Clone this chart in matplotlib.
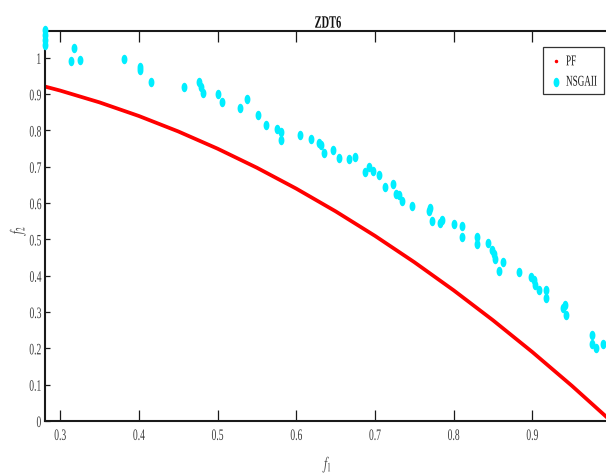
import numpy as np
import matplotlib
matplotlib.use("Agg")
import matplotlib.pyplot as plt
from matplotlib.patheffects import AbstractPathEffect
from matplotlib.transforms import Affine2D
from matplotlib.lines import Line2D
from matplotlib.patches import Rectangle

plt.rcParams['font.family'] = ['Liberation Serif', 'DejaVu Serif']
plt.rcParams['mathtext.fontset'] = 'stix'

# ---------------- data ----------------
pf_f1 = [0.2808, 0.30, 0.35, 0.40, 0.45, 0.50, 0.55, 0.60, 0.65, 0.70,
         0.75, 0.80, 0.85, 0.90, 0.95, 1.00]
pf_f2 = [0.921, 0.910, 0.8775, 0.840, 0.7975, 0.750, 0.6975, 0.640, 0.5775, 0.510,
         0.4375, 0.360, 0.2775, 0.190, 0.0975, 0.000]

ns_f1 = [0.281, 0.281, 0.281, 0.281, 0.318, 0.314, 0.325, 0.381, 0.401, 0.401,
         0.416, 0.457, 0.476, 0.479, 0.482, 0.501, 0.506, 0.529, 0.537, 0.551,
         0.561, 0.575, 0.581, 0.581, 0.605, 0.619, 0.629, 0.632, 0.635, 0.647,
         0.654, 0.667, 0.675, 0.688, 0.693, 0.698, 0.705, 0.713, 0.723, 0.727,
         0.730, 0.734, 0.747, 0.770, 0.769, 0.773, 0.783, 0.785, 0.800, 0.811,
         0.811, 0.830, 0.830, 0.844, 0.849, 0.851, 0.853, 0.863, 0.858, 0.883,
         0.898, 0.902, 0.904, 0.908, 0.918, 0.918, 0.941, 0.939, 0.943, 0.976,
         0.976, 0.981, 0.990]
ns_f2 = [1.076, 1.062, 1.048, 1.036, 1.028, 0.992, 0.995, 0.996, 0.976, 0.967,
         0.933, 0.921, 0.933, 0.919, 0.903, 0.901, 0.878, 0.861, 0.886, 0.844,
         0.815, 0.805, 0.795, 0.774, 0.788, 0.776, 0.766, 0.761, 0.738, 0.745,
         0.725, 0.721, 0.727, 0.686, 0.699, 0.689, 0.677, 0.645, 0.654, 0.625,
         0.622, 0.607, 0.593, 0.586, 0.577, 0.551, 0.546, 0.553, 0.542, 0.538,
         0.506, 0.508, 0.488, 0.490, 0.471, 0.459, 0.446, 0.437, 0.414, 0.409,
         0.397, 0.388, 0.375, 0.361, 0.361, 0.338, 0.320, 0.310, 0.292, 0.237,
         0.212, 0.202, 0.212]

x_ticks = [0.3, 0.4, 0.5, 0.6, 0.7, 0.8, 0.9]
x_labels = ['0.3', '0.4', '0.5', '0.6', '0.7', '0.8', '0.9']
y_ticks = [0, 0.1, 0.2, 0.3, 0.4, 0.5, 0.6, 0.7, 0.8, 0.9, 1.0]
y_labels = ['0', '0.1', '0.2', '0.3', '0.4', '0.5', '0.6', '0.7', '0.8', '0.9', '1']
series_names = ['PF', 'NSGAII']


# ------------- text squeeze (narrow look) -------------
class Squeeze(AbstractPathEffect):
    def __init__(self, sx=0.6, anchor='center', sy=1.0):
        super().__init__()
        self.sx = sx
        self.sy = sy
        self.anchor = anchor

    def draw_path(self, renderer, gc, tpath, affine, rgbFace=None):
        ext = tpath.get_extents()
        if self.anchor == 'center':
            cx = (ext.x0 + ext.x1) / 2
        elif self.anchor == 'right':
            cx = ext.x1
        else:
            cx = ext.x0
        t = Affine2D().translate(-cx, 0).scale(self.sx, self.sy).translate(cx, 0)
        renderer.draw_path(gc, tpath, t + affine, rgbFace)


SX = 0.6
cyan = '#00eeff'
tick_col = '#3a3a3a'
spine_col = '#1a1a1a'
t = np.linspace(0, 2 * np.pi, 41)
ellipse = np.column_stack([0.62 * np.cos(t), np.sin(t)])

fig = plt.figure(figsize=(6.06, 4.74), dpi=100)
ax = fig.add_axes([45 / 606, 53 / 474, 566 / 606, 390 / 474])

ax.plot(pf_f1, pf_f2, color='#ff0000', lw=2.7, zorder=2)
ax.plot(ns_f1, ns_f2, linestyle='None', marker=ellipse, markersize=6.8,
        color=cyan, markeredgecolor='none', zorder=6, clip_on=False)

ax.set_xlim(0.2808, 1.0)
ax.set_ylim(0, 1.074)
ax.set_xticks(x_ticks)
ax.set_xticklabels(x_labels)
ax.set_yticks(y_ticks)
ax.set_yticklabels(y_labels)

ax.tick_params(axis='x', direction='in', length=7.9, width=0.9, top=True,
               bottom=True, pad=5.0, labelsize=11.5, labelcolor=tick_col,
               color=spine_col)
ax.tick_params(axis='y', direction='in', length=3.6, width=0.9, left=True,
               right=True, pad=2.5, labelsize=11.5, labelcolor=tick_col,
               color=spine_col)
for s in ax.spines.values():
    s.set_linewidth(1.5)
    s.set_color(spine_col)

for lbl in ax.get_xticklabels():
    lbl.set_path_effects([Squeeze(SX, 'center')])
for lbl in ax.get_yticklabels():
    lbl.set_path_effects([Squeeze(SX, 'right')])

title = ax.set_title('ZDT6', fontweight='bold', fontsize=12.5, pad=2.4,
                     color='#111111')
title.set_path_effects([Squeeze(SX, 'center')])

xl = ax.set_xlabel('$f_1$', fontsize=13, color=tick_col)
ax.xaxis.set_label_coords(0.5035, -0.087)
xl.set_path_effects([Squeeze(SX, 'center')])
yl = ax.set_ylabel('$f_2$', fontsize=13, color=tick_col)
ax.yaxis.set_label_coords(-0.03, 0.495)
yl.set_path_effects([Squeeze(SX, 'center')])

# legend
handles = [Line2D([], [], color='#ff0000', marker='.', markersize=3,
                  linestyle='None'),
           Line2D([], [], linestyle='None', marker=ellipse, markersize=6.8,
                  color=cyan, markeredgecolor='none')]
leg = ax.legend(handles, series_names, loc='upper left',
                bbox_to_anchor=(543 / 606, 1 - 47 / 474),
                bbox_transform=fig.transFigure, frameon=False, fontsize=8,
                borderpad=0.95, labelspacing=0.95, handlelength=0.45,
                handletextpad=0.67, borderaxespad=0)
leg.set_zorder(8)
for tx in leg.get_texts():
    tx.set_path_effects([Squeeze(0.82, 'left', 1.35)])
    tx.set_color('#1a1a1a')
frame = Rectangle((543 / 606, 1 - 94 / 474), 61 / 606, 47 / 474,
                  transform=fig.transFigure, facecolor='white',
                  edgecolor='#333333', lw=0.9, zorder=7)
ax.add_artist(frame)

fig.savefig('out.png', dpi=100)
